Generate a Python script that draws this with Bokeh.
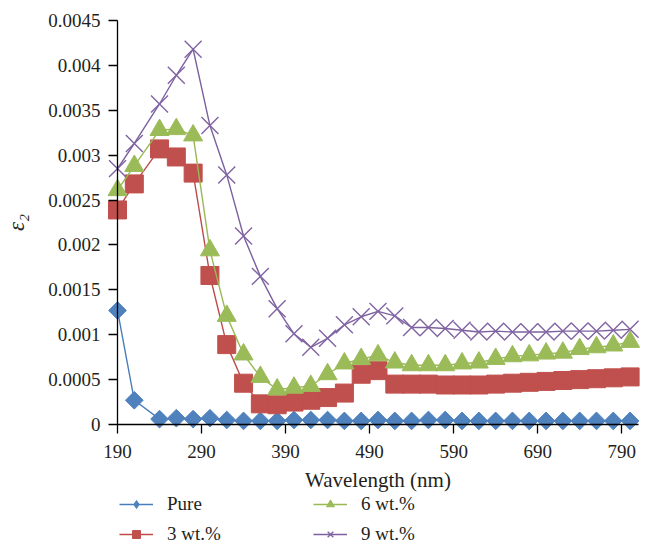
from bokeh.plotting import figure
from bokeh.models import (FixedTicker, CustomJSTickFormatter, Legend, LegendItem, Range1d)
from bokeh.embed import file_html
from bokeh.resources import INLINE
import math

wavelength = [190, 210, 240, 260, 280, 300, 320, 340, 360, 380, 400, 420, 440, 460, 480, 500,
              520, 540, 560, 580, 600, 620, 640, 660, 680, 700, 720, 740, 760, 780, 800]
pure = [0.00127, 0.00027, 0.00006, 0.00007, 0.00006, 0.00007, 0.00005, 0.00004, 0.00004, 0.00004,
        0.00005, 0.00005, 0.00005, 0.00004, 0.00004, 0.00005, 0.00004, 0.00004, 0.00005, 0.00005,
        0.00004, 0.00004, 0.00004, 0.00004, 0.00004, 0.00004, 0.00004, 0.00004, 0.00004, 0.00004, 0.00004]
wt3 = [0.00239, 0.00268, 0.00307, 0.00298, 0.00280, 0.00166, 0.00089, 0.00046, 0.00023, 0.00022,
       0.00025, 0.00027, 0.00030, 0.00035, 0.00056, 0.00060, 0.00045, 0.00045, 0.00045, 0.00044,
       0.00044, 0.00044, 0.00045, 0.00046, 0.00047, 0.00048, 0.00049, 0.00050, 0.00051, 0.00052, 0.00053]
wt6 = [0.00261, 0.00288, 0.00328, 0.00329, 0.00322, 0.00194, 0.00121, 0.00078, 0.00053, 0.00039,
       0.00041, 0.00043, 0.00056, 0.00068, 0.00073, 0.00077, 0.00069, 0.00066, 0.00066, 0.00066,
       0.00068, 0.00069, 0.00073, 0.00076, 0.00077, 0.00079, 0.00080, 0.00084, 0.00086, 0.00088, 0.00092]
wt9 = [0.00285, 0.00313, 0.00357, 0.00389, 0.00418, 0.00333, 0.00278, 0.00210, 0.00165, 0.00129,
       0.00101, 0.00086, 0.00096, 0.00111, 0.00120, 0.00126, 0.00121, 0.00108, 0.00108, 0.00107,
       0.00105, 0.00103, 0.00104, 0.00103, 0.00103, 0.00103, 0.00104, 0.00104, 0.00104, 0.00105, 0.00106]

series_names = ["Pure", "3 wt.%", "6 wt.%", "9 wt.%"]
x_ticks = [190, 290, 390, 490, 590, 690, 790]
y_ticks = [0, 0.0005, 0.001, 0.0015, 0.002, 0.0025, 0.003, 0.0035, 0.004, 0.0045]

FONT = "Liberation Serif"
TXT = "#231f20"

W, H = 645, 545
X0, X1 = 190, 810          # axis extent (data)
Y0, Y1 = 0, 0.0045
# pixel placement of the axes inside the full-canvas frame
PX_L, PX_R, PX_T, PX_B = 117, 638, 20, 424
kx = (PX_R - PX_L) / (X1 - X0)
ky = (PX_B - PX_T) / (Y1 - Y0)
x_range = Range1d(X0 - PX_L / kx, X1 + (W - PX_R) / kx)
y_range = Range1d(Y0 - (H - PX_B) / ky, Y1 + PX_T / ky)

p = figure(width=W, height=H, output_backend="svg", toolbar_location=None,
           x_range=x_range, y_range=y_range,
           min_border_left=0, min_border_right=0, min_border_top=0, min_border_bottom=0)
p.outline_line_color = None
p.xgrid.visible = False
p.ygrid.visible = False
p.background_fill_color = "white"
p.border_fill_color = "white"

p.xaxis.ticker = FixedTicker(ticks=x_ticks)
p.yaxis.ticker = FixedTicker(ticks=y_ticks)
p.yaxis.formatter = CustomJSTickFormatter(code="return String(tick);")
p.xaxis.formatter = CustomJSTickFormatter(code="return String(tick);")
p.xaxis.fixed_location = Y0
p.yaxis.fixed_location = X0
p.xaxis.bounds = (X0, X1)
p.yaxis.bounds = (Y0, Y1)
for ax in (p.xaxis, p.yaxis):
    ax.axis_line_color = "black"
    ax.axis_line_width = 1.3
    ax.major_tick_line_color = "black"
    ax.major_tick_line_width = 1.3
    ax.major_tick_in = 0
    ax.major_tick_out = 9
    ax.minor_tick_line_color = None
    ax.major_label_text_font = FONT
    ax.major_label_text_font_size = "19px"
    ax.major_label_text_color = TXT
    ax.axis_label_text_font = FONT
    ax.axis_label_text_font_size = "21px"
    ax.axis_label_text_color = TXT
    ax.axis_label_text_font_style = "normal"

p.xaxis.axis_label = "Wavelength (nm)"
p.xaxis.major_label_standoff = 11
p.xaxis.axis_label_standoff = 7
p.yaxis.axis_label = "ε₂"
p.yaxis.axis_label_text_font_style = "italic"
p.yaxis.axis_label_text_font_size = "23px"
p.yaxis.major_label_standoff = 8
p.yaxis.axis_label_standoff = 16

styles = [
    dict(marker="square", angle=math.pi / 4, size=12.5, line="#4A7EBB", fill="#4F81BD"),
    dict(marker="square", angle=0, size=18, line="#BE4B48", fill="#C0504D"),
    dict(marker="triangle", angle=0, size=19, line="#98B954", fill="#9BBB59"),
    dict(marker="x", angle=0, size=24, line="#7D60A0", fill="#8064A2"),
]
data = [pure, wt3, wt6, wt9]

items = []
for name, ys, st in zip(series_names, data, styles):
    lr = p.line(wavelength, ys, line_color=st["line"], line_width=1.4)
    legend_marks = [lr]
    if st["marker"] == "x":
        sr = p.scatter(wavelength, ys, marker="x", size=st["size"], line_color=st["fill"], line_width=1.4)
        legend_marks.append(sr)
    elif st["angle"] != 0:
        # diamond glyph (hidden under the rotated squares) so the legend shows a diamond
        dr = p.scatter(wavelength, ys, marker="diamond", size=16, fill_color=st["fill"],
                       line_color=st["fill"], line_width=1)
        sr = p.scatter(wavelength, ys, marker="square", size=st["size"], angle=st["angle"],
                       fill_color=st["fill"], line_color=st["fill"], line_width=1)
        legend_marks.append(dr)
    else:
        sr = p.scatter(wavelength, ys, marker=st["marker"], size=st["size"],
                       fill_color=st["fill"], line_color=st["fill"], line_width=1)
        legend_marks.append(sr)
    items.append(LegendItem(label=name, renderers=legend_marks))

def make_legend(its, x):
    return Legend(items=its, location=(x, 0), orientation="vertical",
                  glyph_width=34, glyph_height=20, label_height=20, spacing=8,
                  label_standoff=14, padding=0, margin=0,
                  border_line_color=None, background_fill_alpha=0,
                  label_text_font=FONT, label_text_font_size="19px", label_text_color=TXT)

p.add_layout(make_legend(items[:2], PX_L + 2))
p.add_layout(make_legend(items[2:], PX_L + 196))

open("out.html", "w").write(file_html(p, INLINE))
